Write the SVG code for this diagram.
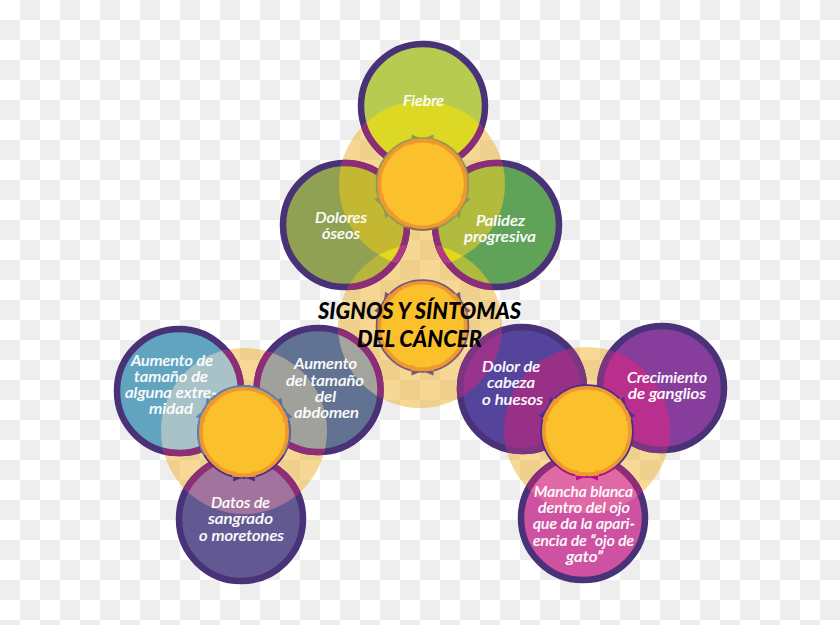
<svg xmlns="http://www.w3.org/2000/svg" width="840" height="625" viewBox="0 0 840 625">
<style>
.big{fill:#eeae1e}
.o{stroke-width:6.5;fill-opacity:.98}
.base{stroke:#4a3278}
.ov{stroke:#8d2d78}
.ov2{stroke:#b03a84}
.ov3{stroke:#7c3580}
text{font-family:Lato,"Open Sans","Liberation Sans",sans-serif;text-anchor:middle;font-style:italic}
.l{fill:#fff;font-size:15px;font-weight:500;stroke:#fff;stroke-width:.2}
.t{fill:#000;font-size:23px;font-weight:900}
.hub{fill:#fbc12c;stroke:#f0982f;stroke-width:3.6}
.ring{fill:none;stroke-width:2.4}
</style>
<defs>
<pattern id="chk" width="40" height="40" patternUnits="userSpaceOnUse">
<rect width="40" height="40" fill="#fff"/>
<rect x="20" y="0" width="20" height="20" fill="#eee"/>
<rect x="0" y="20" width="20" height="20" fill="#eee"/>
</pattern>
<clipPath id="b1"><circle cx="422" cy="184" r="83"/></clipPath>
<clipPath id="b2"><circle cx="420" cy="326" r="82"/></clipPath>
<clipPath id="b3"><circle cx="244" cy="431" r="83"/></clipPath>
<clipPath id="b4"><circle cx="587" cy="430" r="83"/></clipPath>
<g id="pair">
<path d="M-11-49.500V-43.500L-1-45.500ZM11-49.500V-43.500L1-45.500Z" fill="currentColor"/>
<path d="M-.8-45.500-12-44.500-10.700-38.500ZM.8-45.500 12-44.500 10.700-38.500Z" fill="#f0982f"/>
</g>
</defs>
<rect id="background" width="840" height="625" fill="url(#chk)"/>
<g id="halos" opacity=".47">
<circle class="big" cx="422" cy="184" r="83"/>
<circle class="big" cx="420" cy="326" r="82"/>
<circle class="big" cx="244" cy="431" r="83"/>
<circle class="big" cx="587" cy="430" r="83"/>
</g>
<g id="n-fiebre">
<circle class="o base" cx="423" cy="106" r="62" fill="#b6ca4c"/>
<g clip-path="url(#b1)"><circle class="o ov" cx="423" cy="106" r="62" fill="#dcd823"/></g>
<text class="l" x="423.500" y="106" textLength="41" lengthAdjust="spacingAndGlyphs">Fiebre</text>
</g>
<g id="n-dolores">
<circle class="o base" cx="345" cy="225" r="62" fill="#8f9f50"/>
<g clip-path="url(#b1)"><circle class="o ov" cx="345" cy="225" r="62" fill="#c5b832"/></g>
<g clip-path="url(#b2)"><circle class="o ov" cx="345" cy="225" r="62" fill="#b8b73c"/></g>
<g clip-path="url(#b1)"><g clip-path="url(#b2)"><circle class="o ov2" cx="345" cy="225" r="62" fill="#e3d81c"/></g></g>
<text class="l" x="341" y="222.700" textLength="52" lengthAdjust="spacingAndGlyphs">Dolores</text>
<text class="l" x="341" y="239" textLength="38" lengthAdjust="spacingAndGlyphs">óseos</text>
</g>
<g id="n-palidez">
<circle class="o base" cx="497" cy="225" r="62" fill="#5da055"/>
<g clip-path="url(#b1)"><circle class="o ov" cx="497" cy="225" r="62" fill="#b3bd3e"/></g>
<g clip-path="url(#b2)"><circle class="o ov" cx="497" cy="225" r="62" fill="#aebc3e"/></g>
<g clip-path="url(#b1)"><g clip-path="url(#b2)"><circle class="o ov2" cx="497" cy="225" r="62" fill="#e3d81c"/></g></g>
<text class="l" x="500.500" y="226" textLength="49" lengthAdjust="spacingAndGlyphs">Palidez</text>
<text class="l" x="500" y="241.700" textLength="72" lengthAdjust="spacingAndGlyphs">progresiva</text>
</g>
<g id="n-extremidad">
<circle class="o base" cx="179" cy="391" r="62" fill="#5ea2bf"/>
<g clip-path="url(#b3)"><circle class="o ov" cx="179" cy="391" r="62" fill="#aac3c7"/></g>
<text class="l" x="172" y="366" textLength="82" lengthAdjust="spacingAndGlyphs">Aumento de</text>
<text class="l" x="171" y="382" textLength="74" lengthAdjust="spacingAndGlyphs">tamaño de</text>
<text class="l" x="171" y="398" textLength="92" lengthAdjust="spacingAndGlyphs">alguna  extre-</text>
<text class="l" x="171" y="414" textLength="44" lengthAdjust="spacingAndGlyphs">midad</text>
</g>
<g id="n-abdomen">
<circle class="o base" cx="318.500" cy="390" r="62" fill="#5e6f90"/>
<g clip-path="url(#b3)"><circle class="o ov" cx="318.500" cy="390" r="62" fill="#a2a29c"/></g>
<g clip-path="url(#b2)"><circle class="o ov" cx="318.500" cy="390" r="62" fill="#a5a59f"/></g>
<text class="l" x="325.500" y="369" textLength="63" lengthAdjust="spacingAndGlyphs">Aumento</text>
<text class="l" x="325" y="386" textLength="78" lengthAdjust="spacingAndGlyphs">del tamaño</text>
<text class="l" x="325.500" y="402" textLength="21" lengthAdjust="spacingAndGlyphs">del</text>
<text class="l" x="326.500" y="418" textLength="65" lengthAdjust="spacingAndGlyphs">abdomen</text>
</g>
<g id="n-datos">
<circle class="o base" cx="241" cy="519" r="62" fill="#5f5590"/>
<g clip-path="url(#b3)"><circle class="o ov" cx="241" cy="519" r="62" fill="#a3739c"/></g>
<text class="l" x="240.500" y="508" textLength="59" lengthAdjust="spacingAndGlyphs">Datos de</text>
<text class="l" x="240.500" y="524" textLength="65" lengthAdjust="spacingAndGlyphs">sangrado</text>
<text class="l" x="241.500" y="541" textLength="85" lengthAdjust="spacingAndGlyphs">o moretones</text>
</g>
<g id="n-cabeza">
<circle class="o base" cx="522" cy="389" r="62" fill="#52409a"/>
<g clip-path="url(#b4)"><circle class="o ov3" cx="522" cy="389" r="62" fill="#9a3088"/></g>
<g clip-path="url(#b2)"><circle class="o ov3" cx="522" cy="389" r="62" fill="#9b338b"/></g>
<text class="l" x="511" y="372" textLength="58" lengthAdjust="spacingAndGlyphs">Dolor de</text>
<text class="l" x="511" y="388" textLength="48" lengthAdjust="spacingAndGlyphs">cabeza</text>
<text class="l" x="512.500" y="405" textLength="61" lengthAdjust="spacingAndGlyphs">o  huesos</text>
</g>
<g id="n-ganglios">
<circle class="o base" cx="662" cy="388" r="62" fill="#85399a"/>
<g clip-path="url(#b4)"><circle class="o ov3" cx="662" cy="388" r="62" fill="#b92f8d"/></g>
<text class="l" x="667" y="383" textLength="80" lengthAdjust="spacingAndGlyphs">Crecimiento</text>
<text class="l" x="667" y="399" textLength="78" lengthAdjust="spacingAndGlyphs">de ganglios</text>
</g>
<g id="n-mancha">
<circle class="o base" cx="583" cy="518" r="62" fill="#cd4f9f"/>
<g clip-path="url(#b4)"><circle class="o ov" cx="583" cy="518" r="62" fill="#e06aa5"/></g>
<text class="l" x="583.500" y="497" textLength="99" lengthAdjust="spacingAndGlyphs">Mancha blanca</text>
<text class="l" x="584" y="513" textLength="92" lengthAdjust="spacingAndGlyphs">dentro del  ojo</text>
<text class="l" x="584" y="529" textLength="102" lengthAdjust="spacingAndGlyphs">que da la apari-</text>
<text class="l" x="583.500" y="546" textLength="101" lengthAdjust="spacingAndGlyphs">encia de “ojo de</text>
<text class="l" x="584.500" y="562" textLength="37" lengthAdjust="spacingAndGlyphs">gato”</text>
</g>
<g id="connectors">
<circle class="ring" cx="422.500" cy="184" r="45.600" stroke="#8d9c54"/>
<path class="ring" d="M438.100 226.800A45.600 45.600 0 0 1 406.900 226.800" stroke="#7a6a60"/>
<circle class="ring" cx="422.500" cy="326" r="45.600" stroke="#7a5a78"/>
<circle class="ring" cx="244" cy="432" r="45.600" stroke="#4b2e85"/>
<path class="ring" d="M204.500 454.800A45.600 45.600 0 0 1 283.500 409.200" stroke="#5a84b8"/>
<path class="ring" d="M283.500 409.200A45.600 45.600 0 0 1 283.500 454.800" stroke="#5b6a90"/>
<circle class="ring" cx="587" cy="431" r="45.600" stroke="#4b2e8f"/>
<path class="ring" d="M616.300 465.900A45.600 45.600 0 0 1 557.700 465.900" stroke="#b0108a"/>
</g>
<g id="hub-top"><circle class="hub" cx="422.500" cy="184" r="43.200"/></g>
<g id="hub-left"><circle class="hub" cx="244" cy="432" r="43.200"/></g>
<g id="hub-right"><circle class="hub" cx="587" cy="431" r="43.200"/></g>
<g id="hub-center"><circle class="hub" cx="422.500" cy="326" r="43.200"/></g>
<g id="arrowheads">
<use href="#pair" color="#8d9c54" transform="translate(422.500 184)"/>
<use href="#pair" color="#8d9c54" transform="translate(422.500 184) rotate(120)"/>
<use href="#pair" color="#8d9c54" transform="translate(422.500 184) rotate(240)"/>
<use href="#pair" color="#7a5a78" transform="translate(422.500 326) rotate(60)"/>
<use href="#pair" color="#7a5a78" transform="translate(422.500 326) rotate(180)"/>
<use href="#pair" color="#7a5a78" transform="translate(422.500 326) rotate(300)"/>
<use href="#pair" color="#5a6ea8" transform="translate(244 432) rotate(60)"/>
<use href="#pair" color="#4b2e85" transform="translate(244 432) rotate(180)"/>
<use href="#pair" color="#5a84b8" transform="translate(244 432) rotate(300)"/>
<use href="#pair" color="#5a2e90" transform="translate(587 431) rotate(60)"/>
<use href="#pair" color="#b0108a" transform="translate(587 431) rotate(180)"/>
<use href="#pair" color="#4b2e8f" transform="translate(587 431) rotate(300)"/>
</g>
<g id="title">
<text class="t" x="419.500" y="319" textLength="203" lengthAdjust="spacingAndGlyphs">SIGNOS Y SÍNTOMAS</text>
<text class="t" x="419.500" y="347" textLength="125" lengthAdjust="spacingAndGlyphs">DEL CÁNCER</text>
</g>
</svg>
